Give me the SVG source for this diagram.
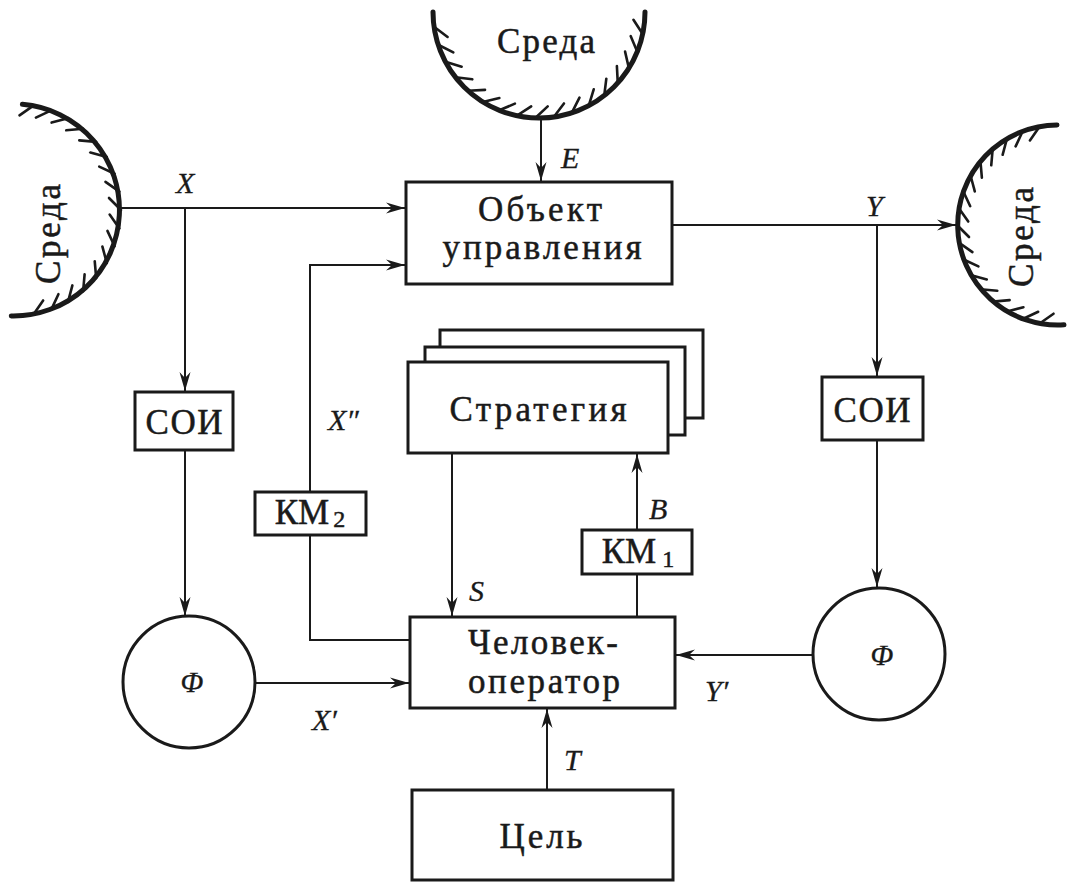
<svg xmlns="http://www.w3.org/2000/svg" xmlns:xlink="http://www.w3.org/1999/xlink" width="1070" height="884" viewBox="0 0 1070 884">
<style>
.box{fill:#fff;stroke:#1a1a1a;stroke-width:3}
.circ{fill:#fff;stroke:#1a1a1a;stroke-width:3}
.arc{fill:none;stroke:#1a1a1a;stroke-width:5;stroke-linecap:round}
.h{stroke:#1a1a1a;stroke-width:2.6;stroke-linecap:round}
.c{fill:none;stroke:#1a1a1a;stroke-width:2}
.t{font-family:"Liberation Serif","DejaVu Serif",serif;font-size:35px;fill:#1a1a1a;stroke:#1a1a1a;stroke-width:0.5;text-anchor:middle}
.i{font-family:"Liberation Serif","DejaVu Serif",serif;font-size:30px;font-style:italic;fill:#1a1a1a;stroke:#1a1a1a;stroke-width:0.3}
.sub{font-size:24px}
</style>
<defs>
<marker id="a" viewBox="-20 -8 22 16" refX="0" refY="0" markerWidth="22" markerHeight="16" markerUnits="userSpaceOnUse" orient="auto">
<path d="M0,0 L-19,-5.5 L-13,0 L-19,5.5 Z" fill="#1a1a1a"/>
</marker>
<line id="h106" class="h" x1="106" y1="0" x2="94" y2="-12"/>
<line id="h100" class="h" x1="100" y1="0" x2="88" y2="-12"/>
</defs>
<rect width="1070" height="884" fill="#fff"/>

<g id="sreda-top">
<path class="arc" d="M433,12 A106,106 0 0 0 645,12"/>
<g transform="translate(539,12)">
<use href="#h106" transform="rotate(12)"/><use href="#h106" transform="rotate(22)"/><use href="#h106" transform="rotate(32)"/><use href="#h106" transform="rotate(42)"/><use href="#h106" transform="rotate(52)"/><use href="#h106" transform="rotate(62)"/><use href="#h106" transform="rotate(72)"/><use href="#h106" transform="rotate(82)"/><use href="#h106" transform="rotate(92)"/><use href="#h106" transform="rotate(102)"/><use href="#h106" transform="rotate(112)"/><use href="#h106" transform="rotate(122)"/><use href="#h106" transform="rotate(132)"/><use href="#h106" transform="rotate(142)"/><use href="#h106" transform="rotate(152)"/><use href="#h106" transform="rotate(162)"/><use href="#h106" transform="rotate(172)"/>
</g>
<text class="t" x="546" y="53" textLength="98" lengthAdjust="spacing">Среда</text>
</g>

<g id="sreda-left">
<path class="arc" d="M22.4,104.3 A106,106 0 0 1 11.3,315.9"/>
<g transform="translate(15,210)">
<use href="#h106" transform="rotate(-80)"/><use href="#h106" transform="rotate(-70)"/><use href="#h106" transform="rotate(-60)"/><use href="#h106" transform="rotate(-50)"/><use href="#h106" transform="rotate(-40)"/><use href="#h106" transform="rotate(-30)"/><use href="#h106" transform="rotate(-20)"/><use href="#h106" transform="rotate(-10)"/><use href="#h106" transform="rotate(0)"/><use href="#h106" transform="rotate(10)"/><use href="#h106" transform="rotate(20)"/><use href="#h106" transform="rotate(30)"/><use href="#h106" transform="rotate(40)"/><use href="#h106" transform="rotate(50)"/><use href="#h106" transform="rotate(60)"/><use href="#h106" transform="rotate(70)"/><use href="#h106" transform="rotate(80)"/>
</g>
<text class="t" transform="translate(60,234) rotate(-90)" x="0" y="0" textLength="100" lengthAdjust="spacing">Среда</text>
</g>

<g id="sreda-right">
<path class="arc" d="M1057,125 A100,100 0 1 0 1064,324.8"/>
<g transform="translate(1057,225)">
<use href="#h100" transform="rotate(100)"/><use href="#h100" transform="rotate(110)"/><use href="#h100" transform="rotate(120)"/><use href="#h100" transform="rotate(130)"/><use href="#h100" transform="rotate(140)"/><use href="#h100" transform="rotate(150)"/><use href="#h100" transform="rotate(160)"/><use href="#h100" transform="rotate(170)"/><use href="#h100" transform="rotate(180)"/><use href="#h100" transform="rotate(190)"/><use href="#h100" transform="rotate(200)"/><use href="#h100" transform="rotate(210)"/><use href="#h100" transform="rotate(220)"/><use href="#h100" transform="rotate(230)"/><use href="#h100" transform="rotate(240)"/><use href="#h100" transform="rotate(250)"/><use href="#h100" transform="rotate(260)"/>
</g>
<text class="t" transform="translate(1033,237) rotate(-90)" x="0" y="0" textLength="100" lengthAdjust="spacing">Среда</text>
</g>

<g id="connectors">
<path class="c" d="M541,118 L541,181" marker-end="url(#a)"/>
<path class="c" d="M121,208 L405,208" marker-end="url(#a)"/>
<path class="c" d="M185,208 L185,391" marker-end="url(#a)"/>
<path class="c" d="M185,450 L185,616" marker-end="url(#a)"/>
<path class="c" d="M255,683 L409,683" marker-end="url(#a)"/>
<path class="c" d="M672,225 L956,225" marker-end="url(#a)"/>
<path class="c" d="M877,225 L877,376" marker-end="url(#a)"/>
<path class="c" d="M877,440 L877,587" marker-end="url(#a)"/>
<path class="c" d="M813,655 L676,655" marker-end="url(#a)"/>
<path class="c" d="M452,453 L452,616" marker-end="url(#a)"/>
<path class="c" d="M637,617 L637,574"/>
<path class="c" d="M637,530 L637,454" marker-end="url(#a)"/>
<path class="c" d="M410,640 L310,640 L310,535"/>
<path class="c" d="M310,492 L310,265 L405,265" marker-end="url(#a)"/>
<path class="c" d="M547,790 L547,709" marker-end="url(#a)"/>
</g>

<g id="labels">
<text class="i" x="176" y="193">X</text>
<text class="i" x="561" y="168">E</text>
<text class="i" x="866" y="216">Y</text>
<text class="i" x="328" y="430">X″</text>
<text class="i" x="649" y="519">B</text>
<text class="i" x="469" y="601">S</text>
<text class="i" x="312" y="730">X′</text>
<text class="i" x="705" y="701">Y′</text>
<text class="i" x="564" y="770">T</text>
</g>

<g id="object">
<rect class="box" x="406" y="182" width="266" height="102"/>
<text class="t" x="540" y="221" textLength="124" lengthAdjust="spacing">Объект</text>
<text class="t" x="542" y="259" textLength="199" lengthAdjust="spacing">управления</text>
</g>

<g id="strategy">
<rect class="box" x="440" y="330" width="263" height="88"/>
<rect class="box" x="425" y="347" width="260" height="88"/>
<rect class="box" x="408" y="362" width="260" height="91"/>
<text class="t" x="538" y="421" textLength="177" lengthAdjust="spacing">Стратегия</text>
</g>

<g id="soi-left">
<rect class="box" x="135" y="392" width="98" height="58"/>
<text class="t" x="184" y="434" textLength="77" lengthAdjust="spacing">СОИ</text>
</g>

<g id="soi-right">
<rect class="box" x="822" y="377" width="101" height="63"/>
<text class="t" x="872" y="422" textLength="77" lengthAdjust="spacing">СОИ</text>
</g>

<g id="km2">
<rect class="box" x="255" y="492" width="111" height="43"/>
<text class="t" x="310" y="524" style="text-anchor:middle">КМ<tspan class="sub" dx="4" dy="3">2</tspan></text>
</g>

<g id="km1">
<rect class="box" x="582" y="530" width="110" height="44"/>
<text class="t" x="638" y="563" style="text-anchor:middle">КМ<tspan class="sub" dx="6" dy="4">1</tspan></text>
</g>

<g id="phi-left">
<circle class="circ" cx="189" cy="682" r="66"/>
<text class="i" x="192" y="692" style="text-anchor:middle">Φ</text>
</g>

<g id="phi-right">
<circle class="circ" cx="879" cy="654" r="66"/>
<text class="i" x="882" y="665" style="text-anchor:middle">Φ</text>
</g>

<g id="operator">
<rect class="box" x="410" y="617" width="265" height="91"/>
<text class="t" x="543" y="654" textLength="150" lengthAdjust="spacing">Человек-</text>
<text class="t" x="544" y="693" textLength="152" lengthAdjust="spacing">оператор</text>
</g>

<g id="goal">
<rect class="box" x="412" y="790" width="261" height="90"/>
<text class="t" x="541" y="848" textLength="83" lengthAdjust="spacing">Цель</text>
</g>
</svg>
